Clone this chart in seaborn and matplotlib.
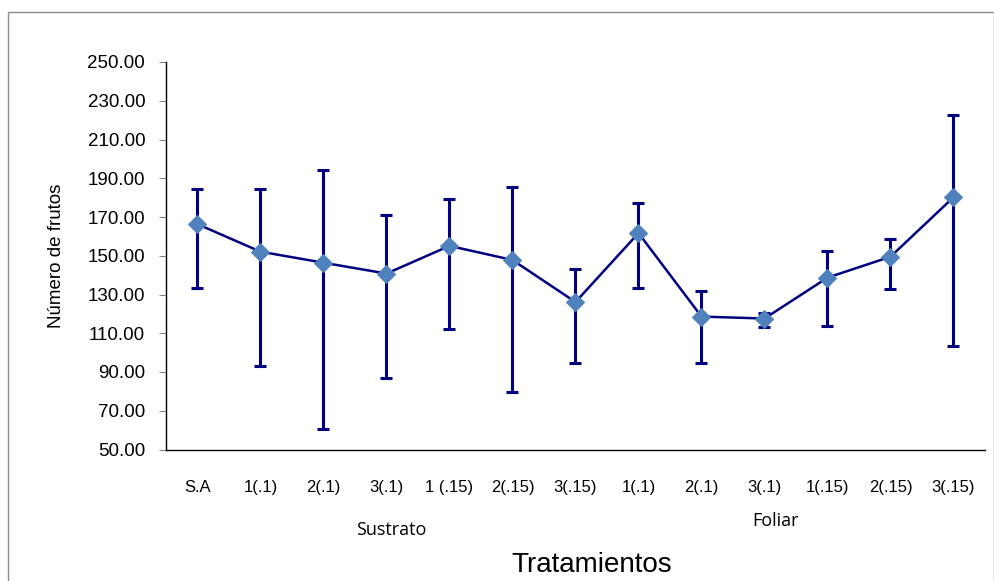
import matplotlib.pyplot as plt
import matplotlib.patches as mpatches
import seaborn as sns
import pandas as pd
import numpy as np

categorias = ["S.A", "1(.1)", "2(.1)", "3(.1)", "1 (.15)", "2(.15)", "3(.15)",
              "1(.1)", "2(.1)", "3(.1)", "1(.15)", "2(.15)", "3(.15)"]
medias = [166.3, 152.1, 146.4, 140.8, 155.1, 147.8, 126.1,
          161.7, 118.6, 117.6, 138.7, 149.5, 180.2]
limite_sup = [184.6, 184.6, 194.4, 170.8, 179.2, 185.5, 143.2,
              177.3, 132.0, 120.5, 152.3, 158.4, 222.9]
limite_inf = [133.3, 93.1, 60.5, 86.7, 112.0, 79.7, 94.8,
              133.3, 94.5, 113.4, 113.7, 132.8, 103.4]

sns.set_style("white")
plt.rcParams['font.family'] = ['Liberation Sans', 'DejaVu Sans']
plt.rcParams['text.color'] = 'black'
plt.rcParams['xtick.color'] = 'black'
plt.rcParams['ytick.color'] = 'black'
plt.rcParams['axes.labelcolor'] = 'black'

df = pd.DataFrame({"pos": np.arange(len(categorias)), "media": medias})

fig = plt.figure(figsize=(9.95, 5.81), dpi=100)
ax = fig.add_axes([166 / 995, 1 - 449.5 / 581, (985 - 166) / 995, (449.5 - 62) / 581])

# marco gris exterior
fig.patches.append(mpatches.Rectangle((8 / 995, -0.01), (986 / 995), 1 - 12 / 581 + 0.01,
                                      transform=fig.transFigure, fill=False,
                                      edgecolor="#8c8c8c", linewidth=1.0))

err = [np.array(medias) - np.array(limite_inf), np.array(limite_sup) - np.array(medias)]
ax.errorbar(df["pos"], df["media"], yerr=err, fmt="none", ecolor="#000080",
            elinewidth=2.2, capsize=4, capthick=2.2, zorder=2)
sns.lineplot(data=df, x="pos", y="media", ax=ax, color="#000080", linewidth=1.8,
             marker="D", markersize=9.5, markerfacecolor="#4F81BD",
             markeredgecolor="#4F81BD", zorder=3)

ax.set_xlim(-0.5, len(categorias) - 0.5)
ax.set_ylim(50, 250)
ax.set_yticks(np.arange(50, 251, 20))
ax.set_yticklabels([f"{v:.2f}" for v in np.arange(50, 251, 20)], fontsize=13.5)
ax.set_xticks(df["pos"])
ax.set_xticklabels(categorias, fontsize=12)
ax.set_xticks(np.arange(-0.5, len(categorias), 1), minor=True)
ax.tick_params(axis="x", which="major", length=0, pad=22)
ax.tick_params(axis="x", which="minor", length=5, color="#808080", direction="out")
ax.tick_params(axis="y", length=5, color="#808080", direction="out", left=True, pad=10,
               labelcolor="black")

for s in ["top", "right"]:
    ax.spines[s].set_visible(False)
for s in ["left", "bottom"]:
    ax.spines[s].set_color("black")
    ax.spines[s].set_linewidth(1.0)

ax.set_xlabel("")
ax.set_ylabel("Número de frutos", fontsize=13.5, labelpad=16)

fig.text(391 / 995, 1 - 530 / 581, "Sustrato", ha="center", va="center", fontsize=13,
         family=["Open Sans", "DejaVu Sans"])
fig.text(775 / 995, 1 - 521 / 581, "Foliar", ha="center", va="center", fontsize=13,
         family=["Open Sans", "DejaVu Sans"])
fig.text(592 / 995, 1 - 565 / 581, "Tratamientos", ha="center", va="center", fontsize=20)

fig.savefig("out.png", dpi=100)
